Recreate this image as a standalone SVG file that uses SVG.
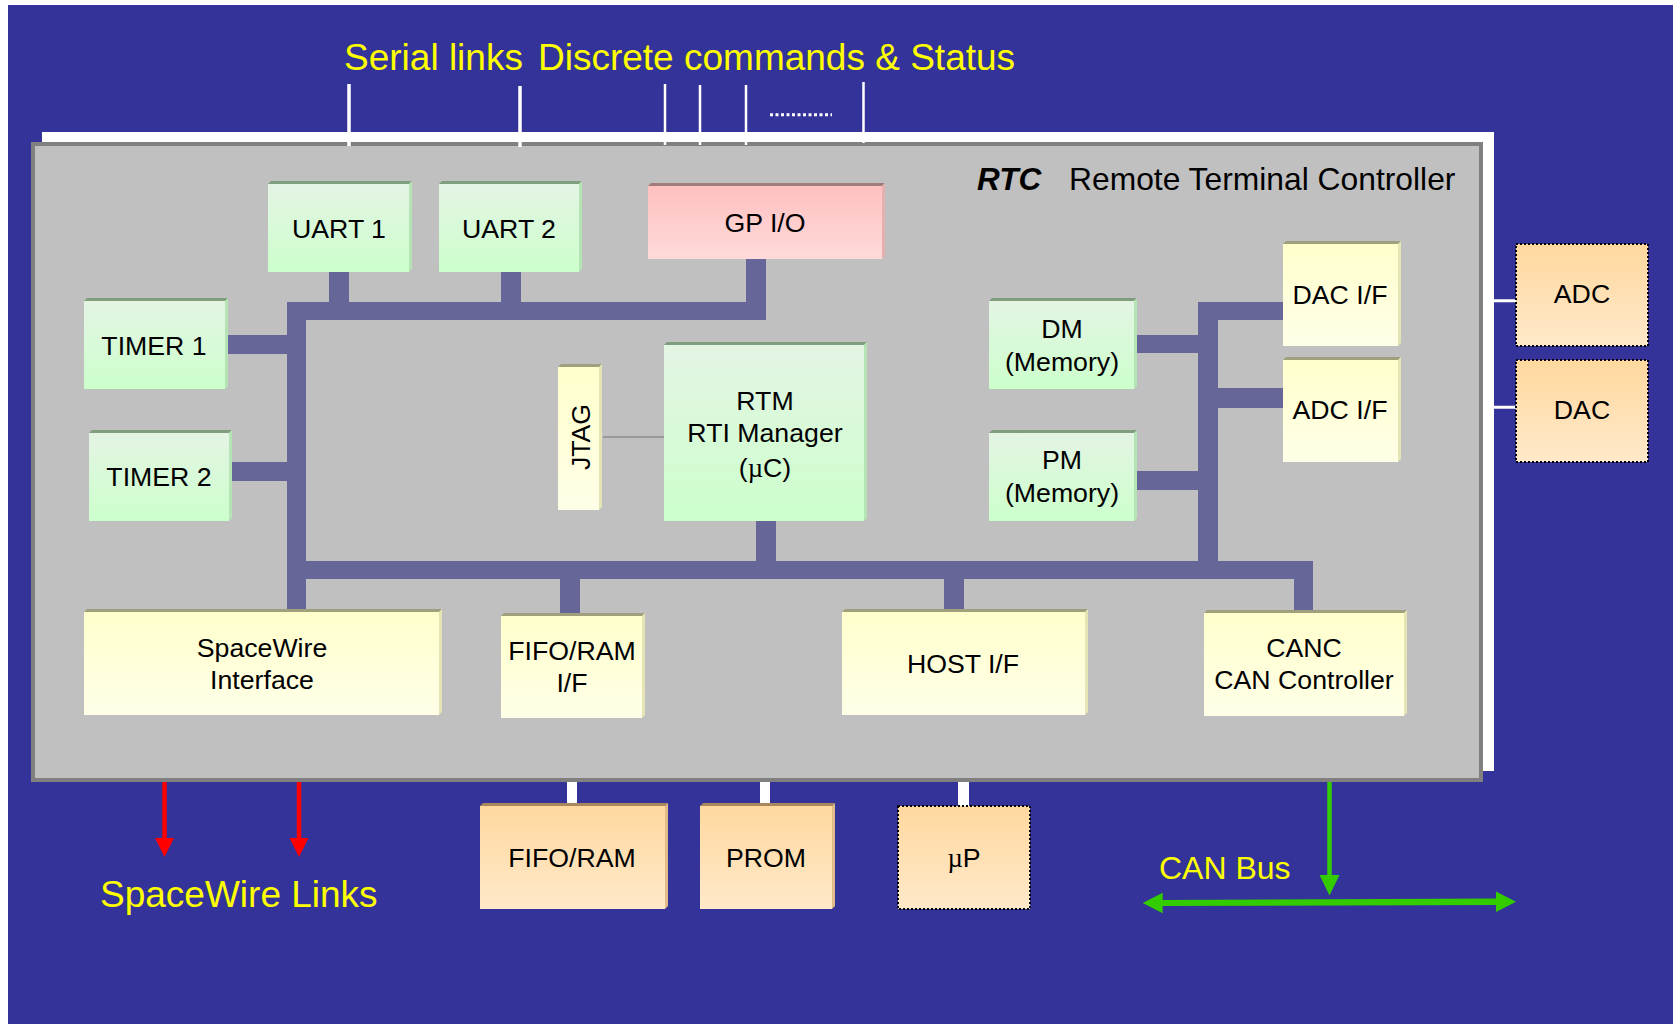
<svg xmlns="http://www.w3.org/2000/svg" width="1673" height="1024" viewBox="0 0 1673 1024">
<style>
text{font-family:"Liberation Sans",Arial,sans-serif;}
.lbl{font-size:26.7px;fill:#000;text-anchor:middle;}
.yel{fill:#FFFF00;}
.bus{fill:#666699;}
.gt{fill:#7E9E7E;}.gr{fill:#B4E4B4;}.gf{fill:url(#gGreen);}
.yt{fill:#A0A07C;}.yr{fill:#E4E4B4;}.yf{fill:url(#gYellow);}
.ot{fill:#A8875E;}.or{fill:#E2BC88;}.of{fill:url(#gOrange);}
.pt{fill:#A07C7C;}.pr{fill:#E4B0B0;}.pf{fill:url(#gPink);}
.dot{fill:url(#gOrange);stroke:#000;stroke-width:2;stroke-dasharray:2 2;}
.wl{stroke:#FFFFFF;fill:none;}
.wc{fill:#FFFFFF;}
.mu{font-family:"Liberation Serif","Times New Roman",serif;}
</style>
<defs>
<linearGradient id="gGreen" x1="0" y1="0" x2="0" y2="1"><stop offset="0" stop-color="#E4F4E4"/><stop offset="1" stop-color="#CCFFCC"/></linearGradient>
<linearGradient id="gYellow" x1="0" y1="0" x2="0" y2="1"><stop offset="0" stop-color="#FFFFCC"/><stop offset="1" stop-color="#FFFFE8"/></linearGradient>
<linearGradient id="gOrange" x1="0" y1="0" x2="0" y2="1"><stop offset="0" stop-color="#FFD89E"/><stop offset="1" stop-color="#FFE9CA"/></linearGradient>
<linearGradient id="gPink" x1="0" y1="0" x2="0" y2="1"><stop offset="0" stop-color="#FFC0C0"/><stop offset="1" stop-color="#FFDADA"/></linearGradient>
</defs>
<rect x="0" y="0" width="1673" height="1024" fill="#FFFFFF"/>
<rect x="8" y="5" width="1665" height="1019" fill="#333399"/>

<g id="labels-top">
<text x="344" y="70" font-size="37" class="yel">Serial links</text>
<text x="538" y="70" font-size="37" class="yel">Discrete commands &amp; Status</text>
</g>

<g id="rtc-container">
<rect x="42" y="132" width="1452" height="639" fill="#FFFFFF"/>
<rect x="33" y="144" width="1448" height="636" fill="#C0C0C0" stroke="#808080" stroke-width="4"/>
<text x="977" y="190" font-size="31.5" font-weight="bold" font-style="italic">RTC</text>
<text x="1069" y="190" font-size="31.8">Remote Terminal Controller</text>
</g>

<g id="connectors">
<line class="wl" x1="349" y1="84" x2="349" y2="146" stroke-width="3.5"/>
<line class="wl" x1="520" y1="86" x2="520" y2="147" stroke-width="3.5"/>
<line class="wl" x1="665" y1="84" x2="665" y2="145" stroke-width="2.5"/>
<line class="wl" x1="700" y1="85" x2="700" y2="145" stroke-width="2.5"/>
<line class="wl" x1="746" y1="85" x2="746" y2="145" stroke-width="2.5"/>
<line class="wl" x1="863.5" y1="82" x2="863.5" y2="143" stroke-width="2.5"/>
<line class="wl" x1="770" y1="114.7" x2="832" y2="114.7" stroke-width="3" stroke-dasharray="3 2.5"/>

<rect class="bus" x="287" y="302" width="479" height="18"/>
<rect class="bus" x="287" y="302" width="19" height="311"/>
<rect class="bus" x="329" y="272" width="20" height="30"/>
<rect class="bus" x="501" y="272" width="20" height="30"/>
<rect class="bus" x="746" y="259" width="20" height="43"/>
<rect class="bus" x="228" y="335" width="59" height="19"/>
<rect class="bus" x="232" y="462" width="55" height="19"/>
<rect class="bus" x="287" y="561" width="1026" height="18"/>
<rect class="bus" x="756" y="521" width="20" height="40"/>
<rect class="bus" x="560" y="579" width="20" height="34"/>
<rect class="bus" x="944" y="579" width="20" height="30"/>
<rect class="bus" x="1294" y="561" width="19" height="52"/>
<rect class="bus" x="1198" y="302" width="20" height="259"/>
<rect class="bus" x="1198" y="302" width="85" height="18"/>
<rect class="bus" x="1218" y="388" width="65" height="20"/>
<rect class="bus" x="1137" y="335" width="61" height="18"/>
<rect class="bus" x="1137" y="471" width="61" height="19"/>

<line x1="603" y1="437" x2="664" y2="437" stroke="#8C8C8C" stroke-width="1.5"/>

<rect class="wc" x="567" y="782" width="10" height="22"/>
<rect class="wc" x="760" y="782" width="10" height="22"/>
<rect class="wc" x="958" y="782" width="11" height="24"/>
<line class="wl" x1="1483" y1="300.7" x2="1516" y2="300.7" stroke-width="3"/>
<line class="wl" x1="1483" y1="407.3" x2="1516" y2="407.3" stroke-width="3"/>

<line x1="164.5" y1="782" x2="164.5" y2="840" stroke="#FF0000" stroke-width="4.5"/>
<polygon points="155,838 174,838 164.5,857" fill="#FF0000"/>
<line x1="299" y1="782" x2="299" y2="840" stroke="#FF0000" stroke-width="4.5"/>
<polygon points="289.5,838 308.5,838 299,857" fill="#FF0000"/>

<line x1="1329.5" y1="782" x2="1329.5" y2="878" stroke="#33CC00" stroke-width="4.5"/>
<polygon points="1319.5,875 1339.5,875 1329.5,895.5" fill="#33CC00"/>
<polygon points="1160,900 1498,898.5 1498,905 1160,906" fill="#33CC00"/>
<polygon points="1142.7,903 1162.7,892.7 1162.7,913.3" fill="#33CC00"/>
<polygon points="1516,901.8 1496,891.5 1496,912" fill="#33CC00"/>
</g>

<g id="uart1"><polygon class="gt" points="268,184 271,181 412,181 409,184"/><polygon class="gr" points="409,184 412,181 412,269 409,272"/><rect class="gf" x="268" y="184" width="141" height="88"/><text class="lbl" x="339" y="238">UART 1</text></g>
<g id="uart2"><polygon class="gt" points="439,184 442,181 582,181 579,184"/><polygon class="gr" points="579,184 582,181 582,269 579,272"/><rect class="gf" x="439" y="184" width="140" height="88"/><text class="lbl" x="509" y="238">UART 2</text></g>
<g id="gpio"><polygon class="pt" points="648,186 651,183 885,183 882,186"/><polygon class="pr" points="882,186 885,183 885,256 882,259"/><rect class="pf" x="648" y="186" width="234" height="73"/><text class="lbl" x="765" y="232">GP I/O</text></g>
<g id="timer1"><polygon class="gt" points="84,301 87,298 228,298 225,301"/><polygon class="gr" points="225,301 228,298 228,386 225,389"/><rect class="gf" x="84" y="301" width="141" height="88"/><text class="lbl" x="154" y="355">TIMER 1</text></g>
<g id="timer2"><polygon class="gt" points="89,433 92,430 232,430 229,433"/><polygon class="gr" points="229,433 232,430 232,518 229,521"/><rect class="gf" x="89" y="433" width="140" height="88"/><text class="lbl" x="159" y="486">TIMER 2</text></g>
<g id="jtag"><polygon class="yt" points="558,367 561,364 602,364 599,367"/><polygon class="yr" points="599,367 602,364 602,507 599,510"/><rect class="yf" x="558" y="367" width="41" height="143"/><text class="lbl" transform="translate(590,437) rotate(-90)">JTAG</text></g>
<g id="rtm"><polygon class="gt" points="664,345 667,342 867,342 864,345"/><polygon class="gr" points="864,345 867,342 867,518 864,521"/><rect class="gf" x="664" y="345" width="200" height="176"/><text class="lbl" x="765" y="410">RTM</text><text class="lbl" x="765" y="442">RTI Manager</text><text class="lbl" x="765" y="477">(<tspan class="mu">µ</tspan>C)</text></g>
<g id="dm"><polygon class="gt" points="989,301 992,298 1137,298 1134,301"/><polygon class="gr" points="1134,301 1137,298 1137,386 1134,389"/><rect class="gf" x="989" y="301" width="145" height="88"/><text class="lbl" x="1062" y="338">DM</text><text class="lbl" x="1062" y="371">(Memory)</text></g>
<g id="pm"><polygon class="gt" points="989,433 992,430 1137,430 1134,433"/><polygon class="gr" points="1134,433 1137,430 1137,518 1134,521"/><rect class="gf" x="989" y="433" width="145" height="88"/><text class="lbl" x="1062" y="469">PM</text><text class="lbl" x="1062" y="502">(Memory)</text></g>
<g id="dacif"><polygon class="yt" points="1283,244 1286,241 1401,241 1398,244"/><polygon class="yr" points="1398,244 1401,241 1401,343 1398,346"/><rect class="yf" x="1283" y="244" width="115" height="102"/><text class="lbl" x="1340" y="304">DAC I/F</text></g>
<g id="adcif"><polygon class="yt" points="1283,360 1286,357 1401,357 1398,360"/><polygon class="yr" points="1398,360 1401,357 1401,459 1398,462"/><rect class="yf" x="1283" y="360" width="115" height="102"/><text class="lbl" x="1340" y="419">ADC I/F</text></g>
<g id="spacewire"><polygon class="yt" points="84,612 87,609 442,609 439,612"/><polygon class="yr" points="439,612 442,609 442,712 439,715"/><rect class="yf" x="84" y="612" width="355" height="103"/><text class="lbl" x="262" y="657">SpaceWire</text><text class="lbl" x="262" y="689">Interface</text></g>
<g id="fifoif"><polygon class="yt" points="501,616 504,613 645,613 642,616"/><polygon class="yr" points="642,616 645,613 645,715 642,718"/><rect class="yf" x="501" y="616" width="141" height="102"/><text class="lbl" x="572" y="660">FIFO/RAM</text><text class="lbl" x="572" y="692">I/F</text></g>
<g id="hostif"><polygon class="yt" points="842,612 845,609 1088,609 1085,612"/><polygon class="yr" points="1085,612 1088,609 1088,712 1085,715"/><rect class="yf" x="842" y="612" width="243" height="103"/><text class="lbl" x="963" y="673">HOST I/F</text></g>
<g id="canc"><polygon class="yt" points="1204,613 1207,610 1407,610 1404,613"/><polygon class="yr" points="1404,613 1407,610 1407,713 1404,716"/><rect class="yf" x="1204" y="613" width="200" height="103"/><text class="lbl" x="1304" y="657">CANC</text><text class="lbl" x="1304" y="689">CAN Controller</text></g>
<g id="fiforam"><polygon class="ot" points="480,806 483,803 668,803 665,806"/><polygon class="or" points="665,806 668,803 668,906 665,909"/><rect class="of" x="480" y="806" width="185" height="103"/><text class="lbl" x="572" y="867">FIFO/RAM</text></g>
<g id="prom"><polygon class="ot" points="700,806 703,803 835,803 832,806"/><polygon class="or" points="832,806 835,803 835,906 832,909"/><rect class="of" x="700" y="806" width="132" height="103"/><text class="lbl" x="766" y="867">PROM</text></g>
<g id="up"><rect class="dot" x="898" y="806" width="132" height="103"/><text class="lbl" x="964" y="867"><tspan class="mu">µ</tspan>P</text></g>
<g id="adc"><rect class="dot" x="1516" y="244" width="132" height="102"/><text class="lbl" x="1582" y="303">ADC</text></g>
<g id="dac"><rect class="dot" x="1516" y="360" width="132" height="102"/><text class="lbl" x="1582" y="419">DAC</text></g>

<g id="labels-bottom">
<text x="100" y="907" font-size="37" class="yel">SpaceWire Links</text>
<text x="1159" y="879" font-size="32" class="yel">CAN Bus</text>
</g>
</svg>
